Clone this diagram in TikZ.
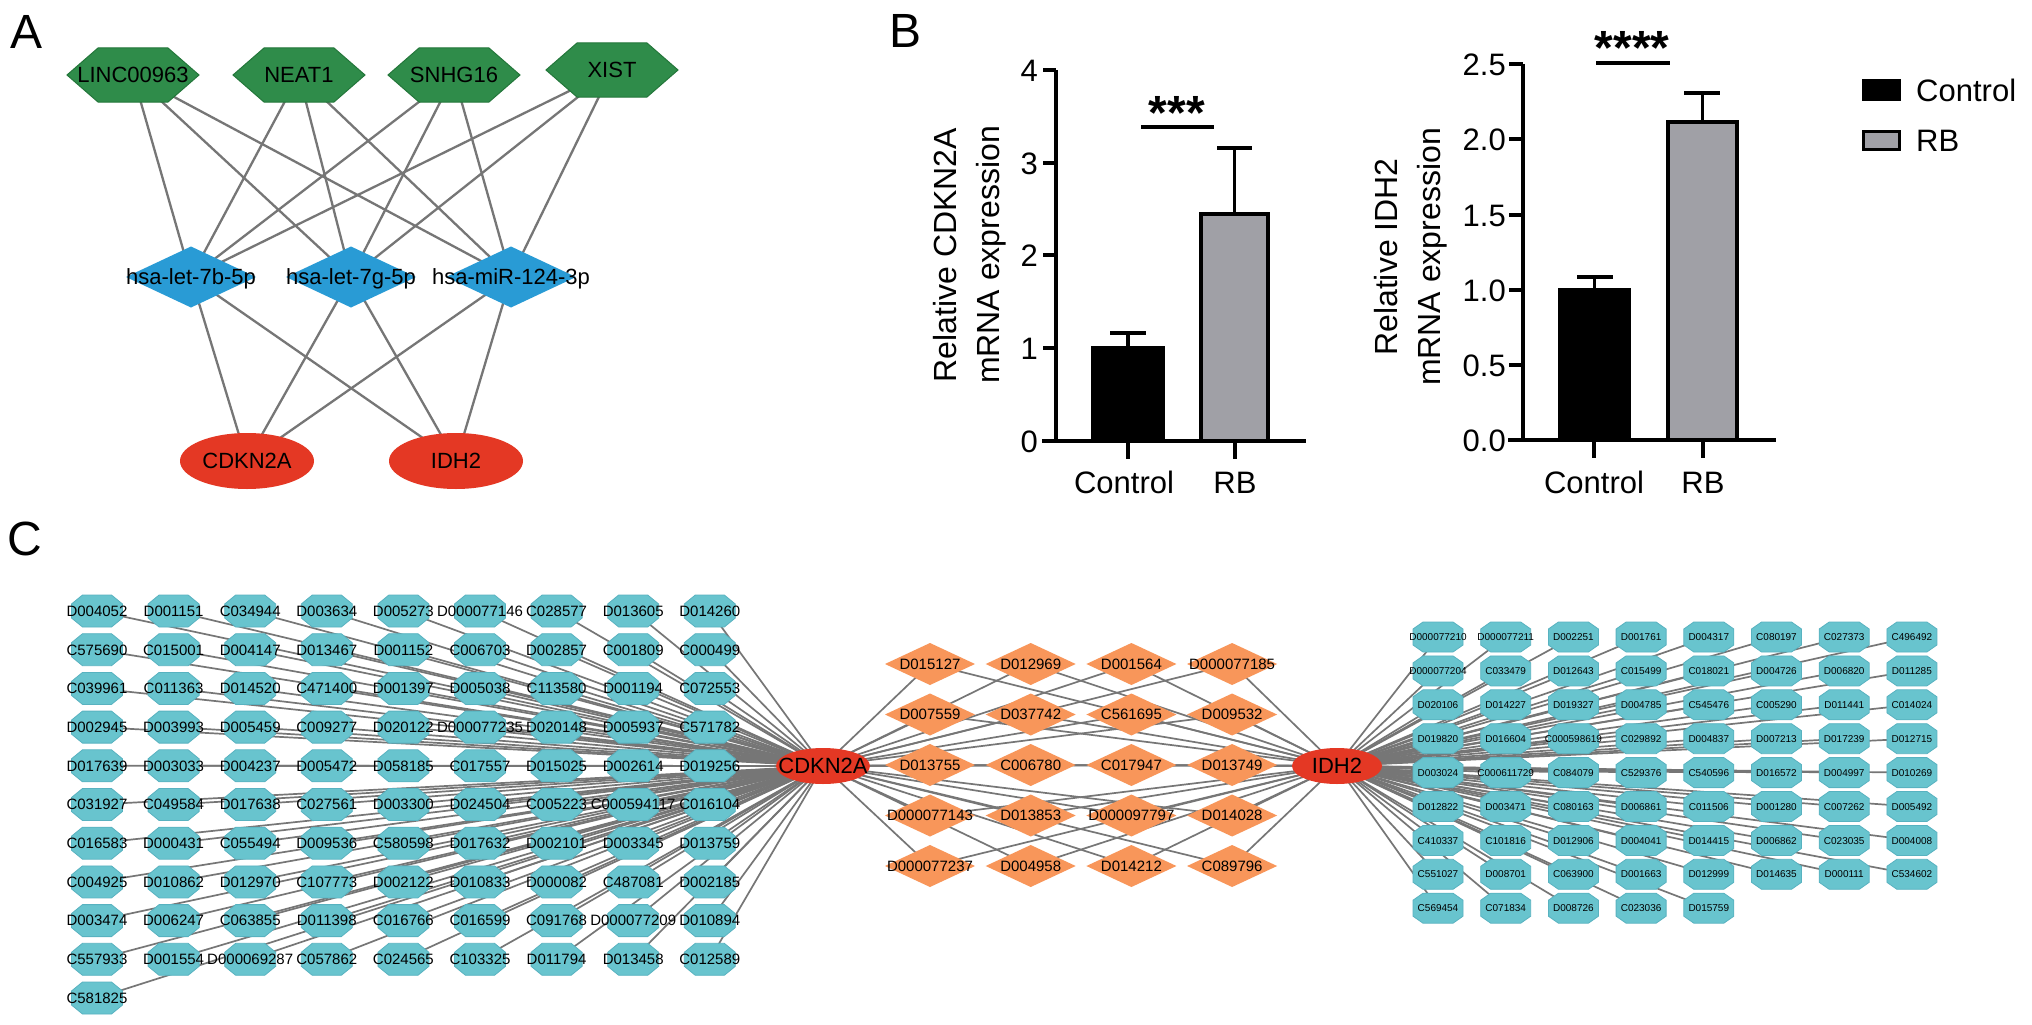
\documentclass[tikz,border=0pt]{standalone}
\usepackage{fontspec}
\setmainfont{Liberation Sans}
\usetikzlibrary{shapes.geometric}
\pgfdeclarelayer{bg}
\pgfdeclarelayer{edges}
\pgfsetlayers{bg,edges,main}
\definecolor{hexgreen}{RGB}{47,140,74}
\definecolor{hexline}{RGB}{35,118,58}
\definecolor{mirblue}{RGB}{41,155,213}
\definecolor{genered}{RGB}{228,56,36}
\definecolor{octteal}{RGB}{104,196,206}
\definecolor{octline}{RGB}{88,178,192}
\definecolor{drugorange}{RGB}{248,150,90}
\definecolor{edgegrey}{RGB}{118,118,118}
\definecolor{bargrey}{RGB}{160,160,166}

\tikzset{
  panel/.style={font=\fontsize{48}{50}\selectfont, inner sep=0pt},
  Atext/.style={font=\fontsize{22}{24}\selectfont, inner sep=0pt, text height=15.8pt, text depth=0pt},
  hexbox/.style={rectangle, minimum width=132pt, minimum height=54pt, inner sep=0pt, outer sep=0pt},
  hexfill/.style={fill=hexgreen, draw=hexline, line width=1pt},
  mirdia/.style={diamond, fill=mirblue, minimum width=130pt, minimum height=61pt, inner sep=0pt, outer sep=0pt},
  Aell/.style={ellipse, fill=genered, minimum width=134pt, minimum height=56pt, inner sep=0pt},
  Aedge/.style={draw=edgegrey, line width=2.3pt},
  Lbox/.style={rectangle, minimum width=51pt, minimum height=32pt, inner sep=0pt, outer sep=0pt},
  Ltext/.style={font=\fontsize{15}{17}\selectfont, inner sep=0pt, text height=10.7pt, text depth=0pt},
  Rbox/.style={rectangle, minimum width=50pt, minimum height=30pt, inner sep=0pt, outer sep=0pt},
  Rtext/.style={font=\fontsize{10}{11}\selectfont, inner sep=0pt, text height=7.2pt, text depth=0pt},
  octfill/.style={fill=octteal, draw=octline, line width=0.8pt},
  drug/.style={diamond, fill=drugorange, minimum width=90pt, minimum height=42pt, inner sep=0pt, outer sep=0pt},
  Mtext/.style={font=\fontsize{15}{16}\selectfont, inner sep=0pt, text height=10.7pt, text depth=0pt},
  Cell/.style={ellipse, fill=genered, inner sep=0pt, minimum height=36pt},
  Ctext/.style={font=\fontsize{22}{24}\selectfont, inner sep=0pt, text height=15.8pt, text depth=0pt},
  Cedge/.style={draw=edgegrey, line width=1.7pt},
  baxis/.style={line width=4pt},
  bar/.style={draw=black, line width=4pt},
  errbar/.style={line width=3.6pt},
  Btext/.style={font=\fontsize{31}{36}\selectfont, inner sep=0pt, text height=22.2pt, text depth=0pt},
  Btitle/.style={font=\fontsize{32}{43}\selectfont, inner sep=0pt, align=center, rotate=90},
  stars/.style={font=\fontsize{48}{50}\selectfont\bfseries, inner sep=0pt, anchor=base},
}

\newcommand\hexnode[4]{%
  \node[hexbox] (#1) at (#2,#3) {};
  \path[hexfill] ([xshift=31pt]#1.north west) -- ([xshift=-31pt]#1.north east) -- (#1.east)
    -- ([xshift=-31pt]#1.south east) -- ([xshift=31pt]#1.south west) -- (#1.west) -- cycle;
  \node[Atext] (#1-t) at (#1.center) {#4};
}
\newcommand\octnode[7]{%
  \node[#5box] (#1) at (#2,#3) {};
  \path[octfill] ([xshift=#6]#1.north west) -- ([xshift=-#6]#1.north east)
    -- ([yshift=-#7]#1.north east) -- ([yshift=#7]#1.south east)
    -- ([xshift=-#6]#1.south east) -- ([xshift=#6]#1.south west)
    -- ([yshift=#7]#1.south west) -- ([yshift=-#7]#1.north west) -- cycle;
  \node[#5text] (#1-t) at (#1.center) {#4};
}

\begin{document}
\begin{tikzpicture}[x=1pt,y=-1pt]
\begin{pgfonlayer}{bg}
\fill[white] (0,0) rectangle (2032,1025);
\end{pgfonlayer}
\path[use as bounding box] (0,0) rectangle (2032,1025);

% panel labels
\node[panel] (labA) at (27,32) {A};
\node[panel] (labB) at (905,31) {B};
\node[panel] (labC) at (25,539) {C};

% ---------------- Panel A ----------------
\hexnode{a1}{133}{75}{LINC00963}
\hexnode{a2}{299}{75}{NEAT1}
\hexnode{a3}{454}{75}{SNHG16}
\hexnode{a4}{612}{70}{XIST}
\node[mirdia] (m1) at (191,277) {};
\node[Atext] (m1-t) at (m1.center) {hsa-let-7b-5p};
\node[mirdia] (m2) at (351,277) {};
\node[Atext] (m2-t) at (m2.center) {hsa-let-7g-5p};
\node[mirdia] (m3) at (511,277) {};
\node[Atext] (m3-t) at (m3.center) {hsa-miR-124-3p};
\node[Aell] (g1) at (247,461) {};
\node[Atext] (g1-t) at (g1.center) {CDKN2A};
\node[Aell] (g2) at (456,461) {};
\node[Atext] (g2-t) at (g2.center) {IDH2};

\begin{pgfonlayer}{edges}
\foreach \a in {a1,a2,a3,a4} \foreach \m in {m1,m2,m3} \draw[Aedge] (\a.center) -- (\m.center);
\foreach \m in {m1,m2,m3} \foreach \g in {g1,g2} \draw[Aedge] (\m.center) -- (\g.center);
\end{pgfonlayer}

% ---------------- Panel B ----------------
% chart 1
\draw[bar, fill=black] (1093,441) rectangle (1163,348);
\draw[bar, fill=bargrey] (1201,441) rectangle (1268,214);
\draw[errbar] (1128,348) -- (1128,333) (1110,333) -- (1146,333);
\draw[errbar] (1234.5,214) -- (1234.5,148) (1217,148) -- (1252,148);
\draw[baxis] (1056,70) -- (1056,441);
\draw[baxis] (1042,441) -- (1306,441);
\foreach \yy in {70,163,255,348} \draw[baxis] (1043,\yy) -- (1056,\yy);
\foreach \xx in {1128,1235} \draw[baxis] (\xx,441) -- (\xx,459);
\foreach \v/\yy in {0/441,1/348,2/255,3/163,4/70} \node[Btext, anchor=east] (ta-\v) at (1038,\yy) {\v};
\node[Btext] (xa1) at (1124,482) {Control};
\node[Btext] (xa2) at (1235,482) {RB};
\draw[errbar] (1141,127) -- (1214,127);
\node[stars] (sa) at (1177,129) {***};
\node[Btitle] (ya) at (970,255) {Relative CDKN2A\\mRNA expression};

% chart 2
\draw[bar, fill=black] (1560,440) rectangle (1629,290);
\draw[bar, fill=bargrey] (1668,440) rectangle (1737,122);
\draw[errbar] (1594.5,290) -- (1594.5,277) (1577,277) -- (1613,277);
\draw[errbar] (1702.5,122) -- (1702.5,93) (1684,93) -- (1720,93);
\draw[baxis] (1523,64) -- (1523,440);
\draw[baxis] (1508,440) -- (1776,440);
\foreach \yy in {64,139,215,290,365} \draw[baxis] (1509,\yy) -- (1523,\yy);
\foreach \xx in {1594,1703} \draw[baxis] (\xx,440) -- (\xx,458);
\foreach \v/\yy in {0.0/440,0.5/365,1.0/290,1.5/215,2.0/139,2.5/64} \node[Btext, anchor=east] (tb-\v) at (1506,\yy) {\v};
\node[Btext] (xb1) at (1594,482) {Control};
\node[Btext] (xb2) at (1703,482) {RB};
\draw[errbar] (1596,63) -- (1670,63);
\node[stars] (sb) at (1632,64.5) {****};
\node[Btitle] (yb) at (1411,257) {Relative IDH2\\mRNA expression};

% legend
\draw[line width=3pt, fill=black] (1863,81) rectangle (1899,99);
\draw[line width=3pt, fill=bargrey] (1863,131) rectangle (1899,149);
\node[Btext, anchor=west] (lg1) at (1916,90) {Control};
\node[Btext, anchor=west] (lg2) at (1916,140) {RB};

% ---------------- Panel C ----------------
\node[Cell, minimum width=94pt] (cdk) at (823,766) {};
\node[Ctext] (cdk-t) at (cdk.center) {CDKN2A};
\node[Cell, minimum width=90pt] (idh) at (1337,766) {};
\node[Ctext] (idh-t) at (idh.center) {IDH2};

\foreach \t [count=\i from 0] in {
D004052,D001151,C034944,D003634,D005273,D000077146,C028577,D013605,D014260,
C575690,C015001,D004147,D013467,D001152,C006703,D002857,C001809,C000499,
C039961,C011363,D014520,C471400,D001397,D005038,C113580,D001194,C072553,
D002945,D003993,D005459,C009277,D020122,D000077235,D020148,D005937,C571782,
D017639,D003033,D004237,D005472,D058185,C017557,D015025,D002614,D019256,
C031927,C049584,D017638,C027561,D003300,D024504,C005223,C000594117,C016104,
C016583,D000431,C055494,D009536,C580598,D017632,D002101,D003345,D013759,
C004925,D010862,D012970,C107773,D002122,D010833,D000082,C487081,D002185,
D003474,D006247,C063855,D011398,C016766,C016599,C091768,D000077209,D010894,
C557933,D001554,D000069287,C057862,C024565,C103325,D011794,D013458,C012589,
C581825} {
  \pgfmathtruncatemacro\c{mod(\i,9)}
  \pgfmathtruncatemacro\r{div(\i,9)}
  \pgfmathsetmacro\xx{97+76.6*\c}
  \pgfmathsetmacro\yy{611+38.7*\r}
  \octnode{L\i}{\xx}{\yy}{\t}{L}{11pt}{9pt}
}

\foreach \t [count=\i from 0] in {
D015127,D012969,D001564,D000077185,
D007559,D037742,C561695,D009532,
D013755,C006780,C017947,D013749,
D000077143,D013853,D000097797,D014028,
D000077237,D004958,D014212,C089796} {
  \pgfmathtruncatemacro\c{mod(\i,4)}
  \pgfmathtruncatemacro\r{div(\i,4)}
  \node[drug] (M\i) at ({930+100.7*\c},{664+50.5*\r}) {};
  \node[Mtext] (M\i-t) at (M\i.center) {\t};
}

\foreach \t [count=\i from 0] in {
D000077210,D000077211,D002251,D001761,D004317,C080197,C027373,C496492,
D000077204,C033479,D012643,C015499,C018021,D004726,D006820,D011285,
D020106,D014227,D019327,D004785,C545476,C005290,D011441,C014024,
D019820,D016604,C000598619,C029892,D004837,D007213,D017239,D012715,
D003024,C000611729,C084079,C529376,C540596,D016572,D004997,D010269,
D012822,D003471,C080163,D006861,C011506,D001280,C007262,D005492,
C410337,C101816,D012906,D004041,D014415,D006862,C023035,D004008,
C551027,D008701,C063900,D001663,D012999,D014635,D000111,C534602,
C569454,C071834,D008726,C023036,D015759} {
  \pgfmathtruncatemacro\c{mod(\i,8)}
  \pgfmathtruncatemacro\r{div(\i,8)}
  \pgfmathsetmacro\xx{1438+67.7*\c}
  \pgfmathsetmacro\yy{637+33.9*\r}
  \octnode{R\i}{\xx}{\yy}{\t}{R}{10pt}{7pt}
}

\begin{pgfonlayer}{edges}
\foreach \i in {0,...,90} \draw[Cedge] (L\i.center) -- (cdk.center);
\foreach \i in {0,...,19} {\draw[Cedge] (M\i.center) -- (cdk.center); \draw[Cedge] (M\i.center) -- (idh.center);}
\foreach \i in {0,...,68} \draw[Cedge] (R\i.center) -- (idh.center);
\end{pgfonlayer}
\end{tikzpicture}
\end{document}
